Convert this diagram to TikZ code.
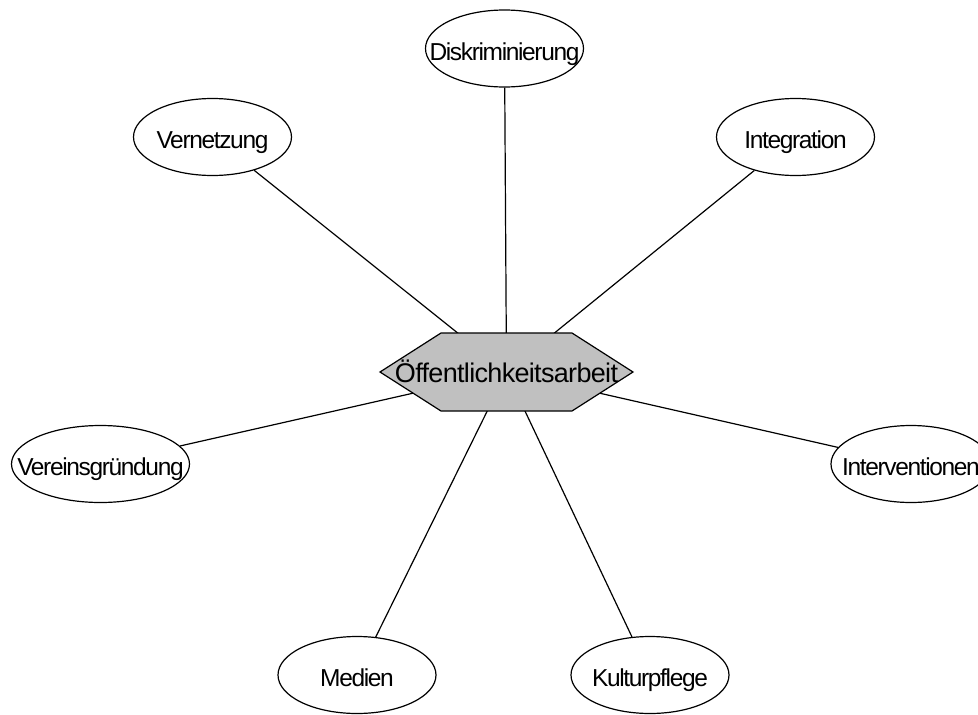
\documentclass[tikz,border=0pt]{standalone}
\usepackage{fontspec}
\setmainfont{Liberation Sans}
\newfontfamily\topicfont[LetterSpace=-5.5]{Liberation Sans}
\newfontfamily\hubfont[LetterSpace=-2.5]{Liberation Sans}
\usetikzlibrary{shapes.geometric,backgrounds,calc}
\definecolor{hubgray}{RGB}{192,192,192}
% text set on its baseline, lowered by #1, taking no room in the node
\newcommand{\flatlabel}[2]{\makebox[0pt]{\raisebox{-#1}[0pt][0pt]{#2}}}
\begin{document}
\begin{tikzpicture}[x=1pt,y=-1pt,
  topic/.style={ellipse,draw,line width=1.2pt,fill=white,inner sep=0pt,
    minimum width=158pt,minimum height=77pt,
    font=\topicfont\fontsize{24.5}{24.5}\selectfont},
  hubtext/.style={inner sep=0pt,font=\hubfont\fontsize{27}{27}\selectfont},
  hubshape/.style={draw,line width=1.2pt,fill=hubgray,line join=miter},
  link/.style={line width=1.2pt}]
  \useasboundingbox (0,0) rectangle (978,715);
  \clip (0,0) rectangle (978,715);

  % central topic
  \node[hubtext] (hub) at (506.5,372) {\flatlabel{10.7pt}{Öffentlichkeitsarbeit}};

  % surrounding topics
  \node[topic] (disk)   at (504.5,48.5) {\flatlabel{11.8pt}{Diskriminierung}};
  \node[topic] (vern)   at (212.5,137)  {\flatlabel{11.8pt}{Vernetzung}};
  \node[topic] (integ)  at (795.5,137)  {\flatlabel{11.8pt}{Integration}};
  \node[topic,minimum width=178pt] (verein) at (100.5,464) {\flatlabel{11.8pt}{Vereinsgründung}};
  \node[topic,minimum width=160pt] (interv) at (911,464)   {\flatlabel{11.8pt}{Interventionen}};
  \node[topic] (medien) at (357,675)    {\flatlabel{11.8pt}{Medien}};
  \node[topic] (kultur) at (650,675)    {\flatlabel{11.8pt}{Kulturpflege}};

  \begin{pgfonlayer}{background}
    % connectors run to the hub centre and are covered by the hexagon
    \foreach \t in {disk,vern,integ,verein,interv,medien,kultur}
      \draw[link] (hub.center) -- (\t);
    % hexagon behind the central label
    \draw[hubshape] ($(hub)+(-126.5,0)$) -- ($(hub)+(-65.5,-39)$)
      -- ($(hub)+(65.5,-39)$) -- ($(hub)+(126.5,0)$)
      -- ($(hub)+(65.5,39)$) -- ($(hub)+(-65.5,39)$) -- cycle;
  \end{pgfonlayer}
\end{tikzpicture}
\end{document}
